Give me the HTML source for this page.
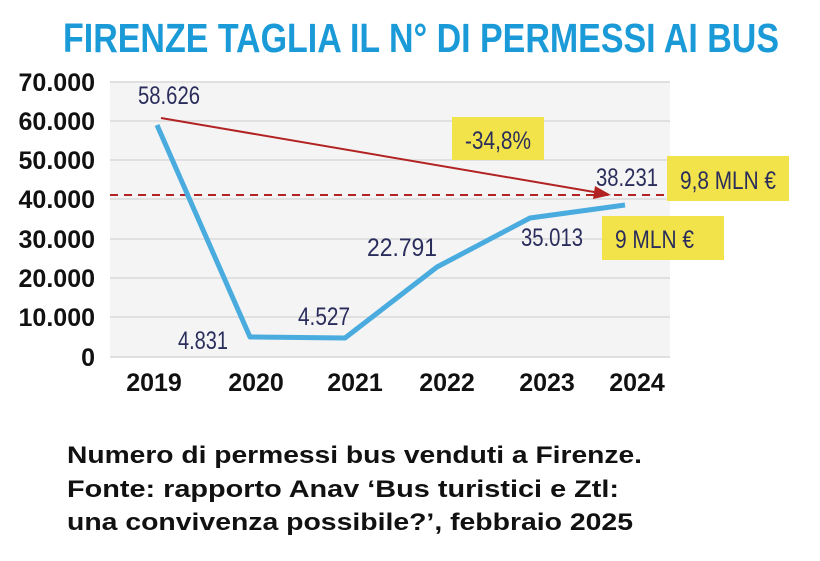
<!DOCTYPE html>
<html><head><meta charset="utf-8"><style>
body{margin:0;width:820px;height:556px;background:#fff;overflow:hidden;font-family:"Liberation Sans",sans-serif}
</style></head><body>
<svg width="820" height="556" xmlns="http://www.w3.org/2000/svg">
<text x="421" y="52" text-anchor="middle" font-weight="bold" font-size="41" fill="#1b9ad8" textLength="716" lengthAdjust="spacingAndGlyphs">FIRENZE TAGLIA IL N° DI PERMESSI AI BUS</text>
<rect x="110" y="82" width="560" height="275" fill="#f4f4f4"/>
<g stroke="#e0e0e0" stroke-width="2">
<line x1="110" x2="670" y1="82" y2="82"/><line x1="110" x2="670" y1="121" y2="121"/><line x1="110" x2="670" y1="160" y2="160"/><line x1="110" x2="670" y1="199" y2="199"/><line x1="110" x2="670" y1="239" y2="239"/><line x1="110" x2="670" y1="278" y2="278"/><line x1="110" x2="670" y1="317" y2="317"/><line x1="110" x2="670" y1="357" y2="357"/>
</g>
<g font-weight="bold" font-size="25" text-anchor="end" fill="#111">
<text x="95" y="91">70.000</text><text x="95" y="130">60.000</text><text x="95" y="169">50.000</text><text x="95" y="208">40.000</text><text x="95" y="248">30.000</text><text x="95" y="287">20.000</text><text x="95" y="326">10.000</text><text x="95" y="366">0</text>
</g>
<g font-weight="bold" font-size="25" text-anchor="middle" fill="#111">
<text x="154" y="391">2019</text><text x="256" y="391">2020</text><text x="355" y="391">2021</text><text x="447" y="391">2022</text><text x="547" y="391">2023</text><text x="637" y="391">2024</text>
</g>
<line x1="110" x2="668" y1="195" y2="195" stroke="#b22222" stroke-width="2" stroke-dasharray="8,6"/>
<line x1="161" y1="118" x2="600" y2="193" stroke="#b22222" stroke-width="2"/>
<polygon points="611,195 595,186 593,199" fill="#b22222"/>
<polyline points="157,125 250,337 345,338 437,267 530,218 625,205" fill="none" stroke="#4aabdf" stroke-width="5" stroke-linejoin="round"/>
<g font-size="25" fill="#2a2d5c">
<text x="138" y="104" textLength="62" lengthAdjust="spacingAndGlyphs">58.626</text>
<text x="178" y="349" textLength="50" lengthAdjust="spacingAndGlyphs">4.831</text>
<text x="298" y="325" textLength="52" lengthAdjust="spacingAndGlyphs">4.527</text>
<text x="367" y="256" textLength="70" lengthAdjust="spacingAndGlyphs">22.791</text>
<text x="521" y="246" textLength="62" lengthAdjust="spacingAndGlyphs">35.013</text>
<text x="596" y="186" textLength="62" lengthAdjust="spacingAndGlyphs">38.231</text>
</g>
<rect x="452" y="117" width="92" height="43" fill="#f2e34a"/>
<rect x="667" y="156" width="122" height="45" fill="#f2e34a"/>
<rect x="602" y="216" width="122" height="44" fill="#f2e34a"/>
<g font-size="25" fill="#2a2d5c">
<text x="465" y="149" textLength="66" lengthAdjust="spacingAndGlyphs">-34,8%</text>
<text x="680" y="189" textLength="96" lengthAdjust="spacingAndGlyphs">9,8 MLN €</text>
<text x="615" y="248" textLength="79" lengthAdjust="spacingAndGlyphs">9 MLN €</text>
</g>
<g font-weight="bold" font-size="24" fill="#111">
<text x="67" y="463" textLength="575" lengthAdjust="spacingAndGlyphs">Numero di permessi bus venduti a Firenze.</text>
<text x="67" y="497" textLength="552" lengthAdjust="spacingAndGlyphs">Fonte: rapporto Anav ‘Bus turistici e Ztl:</text>
<text x="67" y="530" textLength="566" lengthAdjust="spacingAndGlyphs">una convivenza possibile?’, febbraio 2025</text>
</g>
</svg>
</body></html>
